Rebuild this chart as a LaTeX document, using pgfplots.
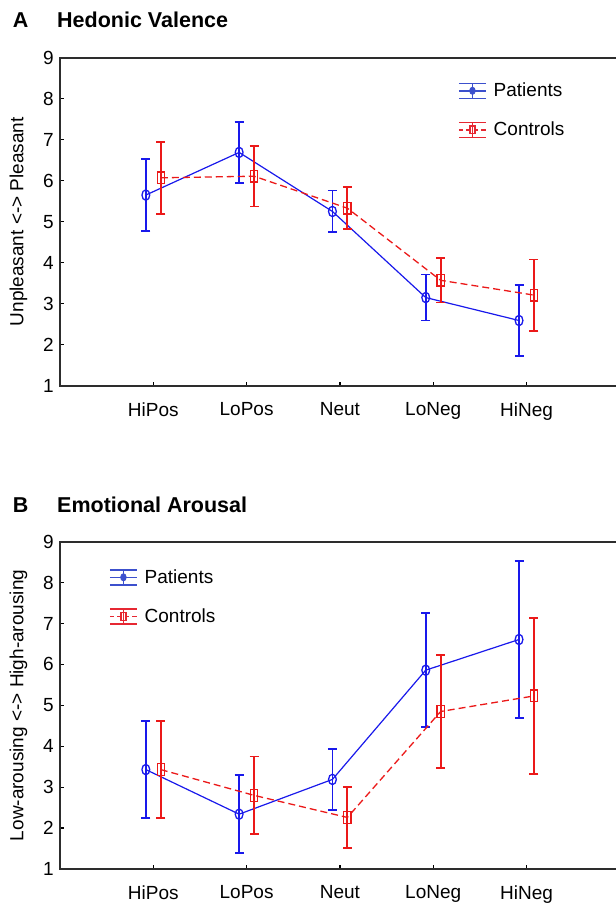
\documentclass[border=0pt]{standalone}
\usepackage{fontspec}
\setmainfont{Liberation Sans}
\setsansfont{Liberation Sans}
\usepackage{pgfplots}
\pgfplotsset{compat=1.18}
\definecolor{pblue}{RGB}{25,25,235}
\definecolor{pred}{RGB}{235,25,25}
\definecolor{lblue}{RGB}{60,80,205}
\definecolor{lred}{RGB}{230,40,50}
\definecolor{axgray}{RGB}{45,45,45}
\newcommand{\lbl}{\fontsize{19}{22}\selectfont}
\pgfplotsset{
 myaxis/.style={
  scale only axis, width=559.8pt, xmin=0, xmax=6, ymin=1, ymax=9,
  xtick={1,2,3,4,5}, xticklabels={HiPos,LoPos,Neut,LoNeg,HiNeg},
  ytick={1,2,...,9},
  tick align=inside, xtick pos=lower, ytick pos=left,
  major tick length=4pt,
  axis line style={axgray, line width=1.8pt},
  every tick/.style={black, line width=1.2pt},
  tick label style={font=\lbl},
  /pgf/number format/assume math mode=true,
  yticklabel style={inner sep=0pt, anchor=east, xshift=-6pt},
  xticklabel style={inner sep=0pt, anchor=north, yshift=-16.5pt},
  ylabel style={font=\lbl, at={(axis description cs:-0.074,0.5)}, anchor=center},
  legend style={draw=none, fill=none, font=\lbl, inner sep=0pt, row sep=22.5pt,
    nodes={inner sep=0pt}, column sep=7pt},
  legend cell align=left,
 },
 patstyle/.style={pblue, line width=1.2pt, mark=o,
   mark options={solid, xscale=0.75, line width=1.3pt}, mark size=5.2pt,
   error bars/y dir=both, error bars/y explicit,
   error bars/error bar style={line width=1.8pt, solid},
   error bars/error mark options={solid, rotate=90, mark size=4.5pt, line width=1.8pt}},
 constyle/.style={pred, line width=1.3pt, dash pattern=on 7pt off 4pt, mark=square,
   mark options={solid, xscale=0.62, line width=1.3pt}, mark size=5.8pt,
   error bars/y dir=both, error bars/y explicit,
   error bars/error bar style={line width=1.8pt, solid},
   error bars/error mark options={solid, rotate=90, mark size=4.5pt, line width=1.8pt}},
 patlegend/.style={legend image code/.code={
   \draw[lblue, solid, line width=1.5pt] (0pt,0pt) -- (27pt,0pt);
   \draw[lblue, solid, line width=1.5pt] (0pt,7.5pt) -- (27pt,7.5pt);
   \draw[lblue, solid, line width=1.5pt] (0pt,-7.5pt) -- (27pt,-7.5pt);
   \draw[lblue, solid, line width=1.5pt] (13.5pt,-7.5pt) -- (13.5pt,7.5pt);
   \filldraw[lblue, solid, line width=0.8pt] (13.5pt,0pt) ellipse [x radius=2.8pt, y radius=3.6pt];
 }},
 conlegend/.style={legend image code/.code={
   \draw[lred, line width=1.5pt, dash pattern=on 4.5pt off 3pt] (0pt,0pt) -- (27pt,0pt);
   \draw[lred, solid, line width=1.5pt] (0pt,7.5pt) -- (27pt,7.5pt);
   \draw[lred, solid, line width=1.5pt] (0pt,-7.5pt) -- (27pt,-7.5pt);
   \draw[lred, solid, line width=1.5pt] (13.5pt,-7.5pt) -- (13.5pt,7.5pt);
   \draw[lred, solid, line width=1.2pt, fill=white] (11pt,-3.8pt) rectangle (16pt,3.8pt);
   \draw[lred, solid, line width=1.2pt] (13.5pt,-3.8pt) -- (13.5pt,3.8pt);
 }},
}
\begin{document}
\begin{tikzpicture}
% Panel A
\node[anchor=west, font=\bfseries\fontsize{21.5}{25}\selectfont, inner sep=0pt] at (12.7pt,-20pt) {A};
\node[anchor=west, font=\bfseries\fontsize{21.5}{25}\selectfont, inner sep=0pt] at (57pt,-20pt) {Hedonic Valence};
\begin{axis}[myaxis, at={(60pt,-57.7pt)}, anchor=north west, height=328pt,
  ylabel={Unpleasant <-> Pleasant},
  legend style={at={(rel axis cs:0.711,0.925)}, anchor=north west}]
\addplot[patstyle, patlegend] table[x=x, y=y, y error=e] {
x y e
0.92 5.65 0.88
1.92 6.69 0.75
2.92 5.25 0.51
3.92 3.15 0.56
4.92 2.59 0.87
};
\addlegendentry{Patients}
\addplot[constyle, conlegend] table[x=x, y=y, y error=e] {
x y e
1.08 6.07 0.88
2.08 6.11 0.74
3.08 5.33 0.51
4.08 3.57 0.54
5.08 3.21 0.87
};
\addlegendentry{Controls}
\end{axis}
% Panel B
\node[anchor=west, font=\bfseries\fontsize{21.5}{25}\selectfont, inner sep=0pt] at (12.7pt,-505pt) {B};
\node[anchor=west, font=\bfseries\fontsize{21.5}{25}\selectfont, inner sep=0pt] at (57pt,-505pt) {Emotional Arousal};
\begin{axis}[myaxis, at={(60pt,-541.7pt)}, anchor=north west, height=327.3pt,
  ylabel={Low-arousing <-> High-arousing},
  legend style={at={(rel axis cs:0.0875,0.917)}, anchor=north west}]
\addplot[patstyle, patlegend] table[x=x, y=y, y error=e] {
x y e
0.92 3.43 1.18
1.92 2.34 0.95
2.92 3.19 0.75
3.92 5.86 1.39
4.92 6.61 1.91
};
\addlegendentry{Patients}
\addplot[constyle, conlegend] table[x=x, y=y, y error=e] {
x y e
1.08 3.43 1.18
2.08 2.80 0.95
3.08 2.26 0.74
4.08 4.85 1.39
5.08 5.23 1.91
};
\addlegendentry{Controls}
\end{axis}
\pgfresetboundingbox
\path[use as bounding box] (0pt,0pt) rectangle (616pt,-903pt);
\end{tikzpicture}
\end{document}
